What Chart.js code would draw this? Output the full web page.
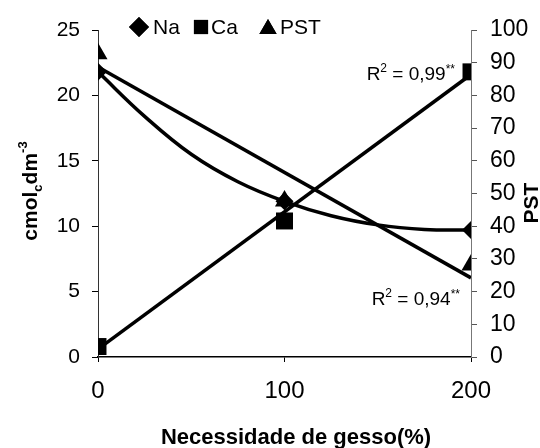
<!DOCTYPE html>
<html>
<head>
<meta charset="utf-8">
<script src="https://cdn.jsdelivr.net/npm/chart.js@4.4.1/dist/chart.umd.min.js"></script>
<style>
  html, body { margin: 0; padding: 0; background: #fff; }
  #wrap { width: 540px; height: 448px; }
</style>
</head>
<body>
<div id="wrap"><canvas id="chart" width="540" height="448"></canvas></div>
<script>
// values
var doses = [0, 100, 200];
var naVals = [21.8, 11.9, 9.7];
var caVals = [0.8, 10.4, 21.8];
var pstVals = [92.7, 47.7, 28.1];

// fitted curves as drawn in the figure
var naFitX = [0, 25, 50, 75, 100, 125, 150, 175, 200];
var naFitY = [21.8, 18.4, 15.5, 13.4, 11.9, 10.8, 10.1, 9.75, 9.7];
var caFitX = [0, 200];
var caFitY = [0.6, 21.6];
var pstFitX = [0, 200];
var pstFitY = [88.7, 24.2];

var leftTicks = [0, 5, 10, 15, 20, 25];
var rightTicks = [0, 10, 20, 30, 40, 50, 60, 70, 80, 90, 100];
var xTicks = [0, 100, 200];

var FONT = "'Liberation Sans', Arial, sans-serif";

function pts(xs, ys) {
    var out = [];
    for (var i = 0; i < xs.length; i++) out.push({x: xs[i], y: ys[i]});
    return out;
}

// draws a run of text pieces (for sub/superscripts)
function richText(ctx, parts, x, y, align) {
    var total = 0;
    parts.forEach(function(p) {
        ctx.font = p.font;
        p.w = ctx.measureText(p.t).width;
        total += p.w;
    });
    var cx = x;
    if (align == 'center') cx = x - total / 2;
    else if (align == 'right') cx = x - total;
    ctx.textAlign = 'left';
    ctx.textBaseline = 'alphabetic';
    parts.forEach(function(p) {
        ctx.font = p.font;
        ctx.fillText(p.t, cx, y + (p.dy || 0));
        cx += p.w;
    });
}

var decor = {
    id: 'decor',
    afterDraw: function(chart) {
        var ctx = chart.ctx;
        var xs = chart.scales.x, ys = chart.scales.y;
        ctx.save();
        ctx.fillStyle = '#000';

        // legend
        var ly = 27;
        var legend = [
            {style: 'rectRot', r: 10, mx: 139, tx: 153, label: 'Na'},
            {style: 'rect', r: 10, mx: 201, tx: 211, label: 'Ca'},
            {style: 'triangle', r: 10, mx: 268, tx: 280, label: 'PST'}
        ];
        legend.forEach(function(l) {
            Chart.helpers.drawPoint(ctx, {pointStyle: l.style, radius: l.r, borderWidth: 0}, l.mx, l.style == 'triangle' ? ly + 2 : ly);
            ctx.fill();
            ctx.font = '21px ' + FONT;
            ctx.textAlign = 'left';
            ctx.textBaseline = 'middle';
            ctx.fillText(l.label, l.tx, ly + 1);
        });

        // R2 labels
        var big = '19px ' + FONT, small = '12px ' + FONT;
        richText(ctx, [
            {t: 'R', font: big}, {t: '2', font: small, dy: -8},
            {t: ' = 0,99', font: big}, {t: '**', font: small, dy: -7}
        ], xs.getPixelForValue(200) - 16, ys.getPixelForValue(21.8) + 8, 'right');
        richText(ctx, [
            {t: 'R', font: big}, {t: '2', font: small, dy: -8},
            {t: ' = 0,94', font: big}, {t: '**', font: small, dy: -7}
        ], xs.getPixelForValue(200) - 11, ys.getPixelForValue(4), 'right');

        // left axis title
        var bold = 'bold 21px ' + FONT, sb = 'bold 13px ' + FONT;
        ctx.save();
        ctx.translate(37, 191);
        ctx.rotate(-Math.PI / 2);
        richText(ctx, [
            {t: 'cmol', font: bold}, {t: 'c', font: sb, dy: 5},
            {t: 'dm', font: bold}, {t: '-3', font: sb, dy: -10}
        ], 0, 0, 'center');
        ctx.restore();

        // right axis title
        ctx.save();
        ctx.translate(538, 203);
        ctx.rotate(-Math.PI / 2);
        richText(ctx, [{t: 'PST', font: bold}], 0, 0, 'center');
        ctx.restore();

        // x axis title
        richText(ctx, [{t: 'Necessidade de gesso(%)', font: 'bold 22px ' + FONT}], 296, 444, 'center');

        ctx.restore();
    }
};

var ctx = document.getElementById('chart').getContext('2d');
var chart = new Chart(ctx, {
    type: 'scatter',
    data: {
        datasets: [
            {label: 'Na', data: pts(doses, naVals), pointStyle: 'rectRot', pointRadius: 9,
             backgroundColor: '#000', borderColor: '#000', borderWidth: 0, yAxisID: 'y'},
            {label: 'Ca', data: pts(doses, caVals), pointStyle: 'rect', pointRadius: 12,
             backgroundColor: '#000', borderColor: '#000', borderWidth: 0, yAxisID: 'y'},
            {label: 'PST', data: pts(doses, pstVals), pointStyle: 'triangle', pointRadius: 11,
             backgroundColor: '#000', borderColor: '#000', borderWidth: 0, yAxisID: 'y1'},
            {label: 'Na fit', data: pts(naFitX, naFitY), showLine: true, pointRadius: 0,
             borderColor: '#000', borderWidth: 3.5, tension: 0.4, yAxisID: 'y'},
            {label: 'Ca fit', data: pts(caFitX, caFitY), showLine: true, pointRadius: 0,
             borderColor: '#000', borderWidth: 3.5, yAxisID: 'y'},
            {label: 'PST fit', data: pts(pstFitX, pstFitY), showLine: true, pointRadius: 0,
             borderColor: '#000', borderWidth: 3.5, yAxisID: 'y1'}
        ]
    },
    options: {
        responsive: false,
        animation: false,
        layout: {padding: {top: 30, left: 0, right: 0, bottom: 0}},
        plugins: {
            legend: {display: false},
            tooltip: {enabled: false}
        },
        scales: {
            x: {
                type: 'linear', min: 0, max: 200,
                afterBuildTicks: function(s) { s.ticks = xTicks.map(function(v) { return {value: v}; }); },
                afterFit: function(s) { s.height = 91; },
                grid: {drawOnChartArea: false, drawTicks: true, tickLength: 5, color: '#000'},
                border: {display: true, color: '#000', width: 1.5},
                ticks: {color: '#000', padding: 15, font: {family: FONT, size: 24}}
            },
            y: {
                position: 'left', min: 0, max: 25,
                afterBuildTicks: function(s) { s.ticks = leftTicks.map(function(v) { return {value: v}; }); },
                afterFit: function(s) { s.width = 98; },
                grid: {drawOnChartArea: false, drawTicks: true, tickLength: 6, color: '#000'},
                border: {display: true, color: '#333', width: 1, dash: [2, 3]},
                ticks: {color: '#000', padding: 12, font: {family: FONT, size: 21}}
            },
            y1: {
                position: 'right', min: 0, max: 100,
                afterBuildTicks: function(s) { s.ticks = rightTicks.map(function(v) { return {value: v}; }); },
                afterFit: function(s) { s.width = 69; },
                grid: {drawOnChartArea: false, drawTicks: true, tickLength: 6, color: '#555'},
                border: {display: true, color: '#777', width: 1, dash: [3, 4]},
                ticks: {color: '#000', padding: 13, font: {family: FONT, size: 23}}
            }
        }
    },
    plugins: [decor]
});
</script>
</body>
</html>
